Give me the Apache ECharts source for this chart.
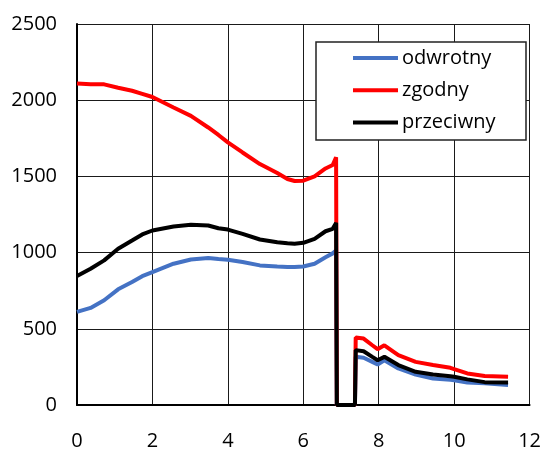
<!DOCTYPE html>
<html>
<head>
<meta charset="utf-8">
<script src="https://cdn.jsdelivr.net/npm/echarts@6/dist/echarts.min.js"></script>
<style>html,body{margin:0;padding:0;background:#fff}#c{width:544px;height:451px}</style>
</head>
<body>
<div id="c"></div>
<script>
const xValues = [0, 0.36, 0.72, 1.09, 1.46, 1.73, 2.0, 2.56, 3.02, 3.48, 3.75, 4.0, 4.39, 4.85, 5.31, 5.58, 5.77, 6.0, 6.3, 6.59, 6.78, 6.87, 6.89, 7.37, 7.39, 7.6, 7.83, 7.97, 8.15, 8.52, 8.98, 9.44, 9.9, 10.0, 10.35, 10.81, 11.43];
const odwrotny = [611, 637, 687, 759, 807, 845, 872, 927, 955, 964, 958, 953, 938, 916, 909, 906, 905, 909, 927, 970, 995, 1014, 0, 0, 316, 310, 283, 266, 294, 240, 200, 174, 165, 163, 148, 142, 131];
const zgodny = [2110, 2105, 2104, 2082, 2062, 2042, 2021, 1952, 1897, 1821, 1772, 1723, 1657, 1581, 1522, 1483, 1470, 1472, 1500, 1552, 1575, 1625, 0, 0, 443, 436, 392, 366, 392, 327, 283, 262, 244, 235, 207, 190, 185];
const przeciwny = [846, 894, 949, 1025, 1079, 1119, 1145, 1171, 1182, 1178, 1160, 1151, 1123, 1086, 1068, 1062, 1058, 1064, 1090, 1140, 1156, 1195, 0, 0, 360, 353, 316, 294, 316, 262, 218, 200, 188, 185, 168, 150, 148];
const seriesNames = ['odwrotny', 'zgodny', 'przeciwny'];
const seriesColors = ['#4472C4', '#FF0000', '#000000'];
const xTicks = {min: 0, max: 12, interval: 2};
const yTicks = {min: 0, max: 2500, interval: 500};

const allData = [odwrotny, zgodny, przeciwny];
const font = '"Open Sans", "Liberation Sans", sans-serif';
const chart = echarts.init(document.getElementById('c'), null, {renderer: 'canvas'});
chart.setOption({
  animation: false,
  backgroundColor: '#fff',
  grid: {left: 77, right: 9, top: 24, bottom: 44, containLabel: false},
  xAxis: {
    type: 'value', min: xTicks.min, max: xTicks.max, interval: xTicks.interval,
    axisLine: {show: true, onZero: false, lineStyle: {color: '#000', width: 2}},
    axisTick: {show: false},
    axisLabel: {color: '#000', fontSize: 20, fontFamily: font, margin: 26, showMaxLabel: true, formatter: v => String(v)},
    splitLine: {show: true, lineStyle: {color: '#1a1a1a', width: 1}}
  },
  yAxis: {
    type: 'value', min: yTicks.min, max: yTicks.max, interval: yTicks.interval,
    axisLine: {show: true, lineStyle: {color: '#000', width: 2}},
    axisTick: {show: false},
    axisLabel: {color: '#000', fontSize: 20, fontFamily: font, margin: 20, formatter: v => String(v)},
    splitLine: {show: true, lineStyle: {color: '#1a1a1a', width: 1}}
  },
  graphic: [{
    type: 'rect', z: 5, silent: true,
    shape: {x: 316, y: 42, width: 210, height: 98},
    style: {fill: '#fff', stroke: '#222', lineWidth: 1.5}
  }],
  legend: {
    z: 6,
    orient: 'vertical', left: 353, top: 48, padding: 0, itemGap: 12.3,
    itemWidth: 45, itemHeight: 4, icon: 'rect',
    textStyle: {color: '#000', fontSize: 20, fontFamily: font, lineHeight: 20, padding: [0, 0, 0, -1]},
    data: seriesNames
  },
  series: seriesNames.map((n, i) => ({
    name: n, type: 'line', showSymbol: false, symbol: 'none',
    color: seriesColors[i],
    lineStyle: {color: seriesColors[i], width: 4},
    data: xValues.map((x, j) => [x, allData[i][j]])
  }))
});
</script>
</body>
</html>
